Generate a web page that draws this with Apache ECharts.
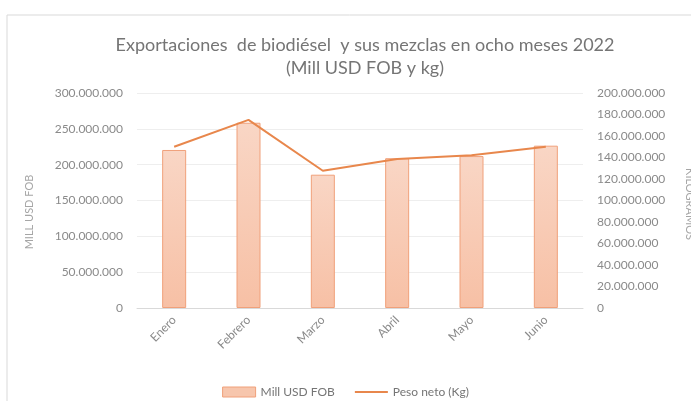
<!DOCTYPE html>
<html>
<head>
<meta charset="utf-8">
<script src="https://cdn.jsdelivr.net/npm/echarts@6/dist/echarts.min.js"></script>
<style>html,body{margin:0;padding:0;background:#fff}#c{width:691px;height:401px}</style>
</head>
<body>
<div id="c"></div>
<script>
const categories = ['Enero', 'Febrero', 'Marzo', 'Abril', 'Mayo', 'Junio'];
const usdFob = [220500000, 258500000, 186000000, 209000000, 212000000, 226500000];
const pesoNeto = [150000000, 175000000, 127700000, 138600000, 142000000, 150000000];
const seriesNames = ['Mill USD FOB', 'Peso neto (Kg)'];
const axisNames = ['MILL USD FOB', 'KILOGRAMOS'];
const titleText = 'Exportaciones  de biodiésel  y sus mezclas en ocho meses 2022\n(Mill USD FOB y kg)';

const fmt = v => String(Math.round(v)).replace(/\B(?=(\d{3})+(?!\d))/g, '.');
const FONT = 'Lato';
const chart = echarts.init(document.getElementById('c'), null, {renderer: 'canvas'});
chart.setOption({
  animation: false,
  backgroundColor: '#fff',
  graphic: [{
    type: 'rect', shape: {x: 7, y: 15, width: 700, height: 400},
    style: {fill: 'none', stroke: '#d9d9d9', lineWidth: 1}, silent: true, z: -1
  }, {
    type: 'text', x: 29, y: 212, rotation: Math.PI / 2,
    style: {text: axisNames[0], font: '11px Lato', fill: '#a6a6a6', align: 'center', verticalAlign: 'middle'}
  }, {
    type: 'text', x: 690, y: 204, rotation: -Math.PI / 2,
    style: {text: axisNames[1], font: '11px Lato', fill: '#a6a6a6', align: 'center', verticalAlign: 'middle'}
  }],
  title: {
    text: titleText, left: 360, top: 29, textAlign: 'center',
    textStyle: {fontFamily: FONT, fontSize: 18, fontWeight: 'normal', color: '#757575', lineHeight: 23, align: 'center'}
  },
  legend: {
    top: 381, left: 'center', itemGap: 20,
    textStyle: {fontFamily: FONT, fontSize: 12, color: '#757575'},
    data: [
      {name: seriesNames[0], icon: 'rect', itemStyle: {color: '#F7C6AD', borderColor: '#F0A07A', borderWidth: 1}},
      {name: seriesNames[1], icon: 'path://M0,0 L30,0 L30,2 L0,2 Z'}
    ],
    itemWidth: 33, itemHeight: 10
  },
  grid: {left: 137, right: 108, top: 93, bottom: 93, outerBoundsMode: 'none', containLabel: false},
  xAxis: {
    type: 'category', data: categories,
    axisLine: {lineStyle: {color: '#d9d9d9'}},
    axisTick: {show: false},
    axisLabel: {rotate: 45, fontFamily: FONT, fontSize: 12, color: '#8a8a8a', margin: 10}
  },
  yAxis: [{
    type: 'value', min: 0, max: 300000000, interval: 50000000,
    axisLabel: {formatter: fmt, fontFamily: FONT, fontSize: 12, color: '#8a8a8a', margin: 14},
    splitLine: {lineStyle: {color: '#eeeeee'}},
    axisLine: {show: false}, axisTick: {show: false}
  }, {
    type: 'value', min: 0, max: 200000000, interval: 20000000,
    axisLabel: {formatter: fmt, fontFamily: FONT, fontSize: 12, color: '#8a8a8a', margin: 14},
    splitLine: {show: false},
    axisLine: {show: false}, axisTick: {show: false}
  }],
  series: [{
    name: seriesNames[0], type: 'bar', data: usdFob, yAxisIndex: 0, barWidth: 24,
    itemStyle: {
      color: new echarts.graphic.LinearGradient(0, 0, 0, 1, [
        {offset: 0, color: '#F9D6C5'}, {offset: 1, color: '#F7C0A5'}
      ]),
      borderColor: '#F0A07A', borderWidth: 1
    }
  }, {
    name: seriesNames[1], type: 'line', data: pesoNeto, yAxisIndex: 1,
    symbol: 'none', lineStyle: {color: '#E8874C', width: 2}, itemStyle: {color: '#E8874C'}
  }]
});
</script>
</body>
</html>
